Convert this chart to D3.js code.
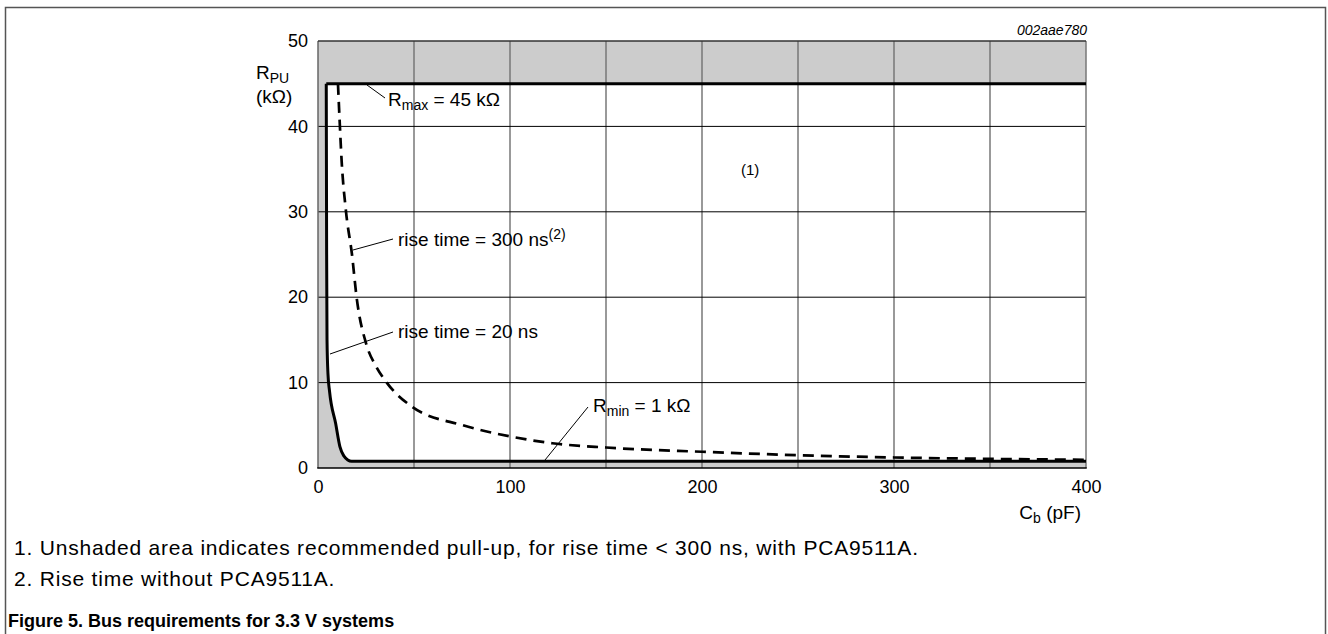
<!DOCTYPE html>
<html>
<head>
<meta charset="utf-8">
<script src="https://cdn.jsdelivr.net/npm/d3@7"></script>
<style>
  body { margin: 0; background: #fff; }
  text { font-family: "Liberation Sans", Arial, sans-serif; fill: #000; }
</style>
</head>
<body>
<svg id="chart" width="1328" height="634"></svg>
<script>
// data
const xTicks = [0, 100, 200, 300, 400];
const yTicks = [0, 10, 20, 30, 40, 50];
const xGrid = [50, 100, 150, 200, 250, 300, 350];
const yGrid = [10, 20, 30, 40];
const rMax = 45;

// rise time = 20 ns (solid boundary), C in pF, R in kOhm
const solidC = [4.3, 4.5, 4.7, 5.2, 6.0, 9.2, 11.4, 13.5, 15.5, 17.5, 400];
const solidR = [45, 25, 15, 11, 9, 5.2, 2.5, 1.4, 0.95, 0.8, 0.8];

// rise time = 300 ns (dashed)
const dashC = [10.4, 11.2, 12.3, 14.6, 17.7, 20.1, 25.3, 30, 35.8, 48.8, 75.5, 100, 122, 150, 200, 250, 300, 350, 400];
const dashR = [45, 41, 36, 30, 25, 20, 14.4, 12, 10, 7.2, 5.0, 3.7, 2.9, 2.4, 1.9, 1.5, 1.23, 1.07, 0.96];

const svg = d3.select('#chart');

const x = d3.scaleLinear().domain([0, 400]).range([318, 1086]);
const y = d3.scaleLinear().domain([0, 50]).range([468, 41]);

// outer frame (open at the bottom)
svg.append('path')
  .attr('d', 'M5.5,634 V7.5 H1325.5 V634')
  .attr('fill', 'none')
  .attr('stroke', '#555')
  .attr('stroke-width', 1.5);

// shaded plot background
svg.append('rect')
  .attr('x', x(0)).attr('y', y(50))
  .attr('width', x(400) - x(0)).attr('height', y(0) - y(50))
  .attr('fill', '#cccccc');

const solidPts = solidC.map((c, i) => [c, solidR[i]]);
const dashPts = dashC.map((c, i) => [c, dashR[i]]);

const line = d3.line()
  .x(d => x(d[0]))
  .y(d => y(d[1]))
  .curve(d3.curveMonotoneX);

// unshaded (recommended) region
const areaPath = line(solidPts) + `L${x(400)},${y(rMax)}L${x(solidC[0])},${y(rMax)}Z`;
svg.append('path').attr('d', areaPath).attr('fill', '#fff');

// grid
svg.selectAll('.vg').data(xGrid).join('line')
  .attr('x1', d => x(d)).attr('x2', d => x(d))
  .attr('y1', y(0)).attr('y2', y(50))
  .attr('stroke', '#777').attr('stroke-width', 1.5);

svg.selectAll('.hg').data(yGrid).join('line')
  .attr('x1', x(0)).attr('x2', x(400))
  .attr('y1', d => y(d)).attr('y2', d => y(d))
  .attr('stroke', '#000').attr('stroke-width', 1);

// plot borders
svg.append('line').attr('x1', x(0)).attr('x2', x(0)).attr('y1', y(0)).attr('y2', y(50))
  .attr('stroke', '#666').attr('stroke-width', 1.5);
svg.append('line').attr('x1', x(400)).attr('x2', x(400)).attr('y1', y(0)).attr('y2', y(50))
  .attr('stroke', '#777').attr('stroke-width', 1.5);
svg.append('line').attr('x1', x(0)).attr('x2', x(400)).attr('y1', y(50)).attr('y2', y(50))
  .attr('stroke', '#333').attr('stroke-width', 1.5);
svg.append('line').attr('x1', x(0) - 0.75).attr('x2', x(400) + 0.75).attr('y1', y(0)).attr('y2', y(0))
  .attr('stroke', '#000').attr('stroke-width', 1.5);

// Rmax line
svg.append('line')
  .attr('x1', x(solidC[0])).attr('x2', x(400))
  .attr('y1', y(rMax)).attr('y2', y(rMax))
  .attr('stroke', '#000').attr('stroke-width', 3);

// 20 ns curve + Rmin
svg.append('path').attr('d', line(solidPts))
  .attr('fill', 'none').attr('stroke', '#000').attr('stroke-width', 3)
  .attr('stroke-linejoin', 'round');

// 300 ns dashed curve
svg.append('path').attr('d', line(dashPts))
  .attr('fill', 'none').attr('stroke', '#000').attr('stroke-width', 2.7)
  .attr('stroke-dasharray', '11,7');

// axes (labels only)
const xAxis = svg.append('g')
  .attr('transform', `translate(0,${y(0)})`)
  .call(d3.axisBottom(x).tickValues(xTicks).tickSize(0).tickPadding(12));
const yAxis = svg.append('g')
  .attr('transform', `translate(${x(0)},0)`)
  .call(d3.axisLeft(y).tickValues(yTicks).tickSize(0).tickPadding(10));
[xAxis, yAxis].forEach(g => {
  g.select('.domain').remove();
  g.selectAll('text')
    .attr('font-family', '"Liberation Sans", Arial, sans-serif')
    .attr('font-size', 18).attr('fill', '#000');
});

// axis titles
const rpu = svg.append('text').attr('x', 256).attr('y', 79).attr('font-size', 19);
rpu.append('tspan').text('R');
rpu.append('tspan').attr('font-size', 14).attr('dy', 4).text('PU');
svg.append('text').attr('x', 256).attr('y', 103).attr('font-size', 19).text('(kΩ)');

const cb = svg.append('text').attr('x', 1081).attr('y', 519).attr('font-size', 19).attr('text-anchor', 'end');
cb.append('tspan').text('C');
cb.append('tspan').attr('font-size', 14).attr('dy', 4).text('b');
cb.append('tspan').attr('dy', -4).text(' (pF)');

svg.append('text').attr('x', 1087).attr('y', 35).attr('font-size', 14)
  .attr('font-style', 'italic').attr('text-anchor', 'end').text('002aae780');

svg.append('text').attr('x', 741).attr('y', 175).attr('font-size', 15).text('(1)');

// annotations with leader lines
function leader(x1, y1, x2, y2) {
  svg.append('line').attr('x1', x1).attr('y1', y1).attr('x2', x2).attr('y2', y2)
    .attr('stroke', '#000').attr('stroke-width', 1);
}

leader(367, 85, 385, 98);
const rmaxT = svg.append('text').attr('x', 388).attr('y', 106).attr('font-size', 19);
rmaxT.append('tspan').text('R');
rmaxT.append('tspan').attr('font-size', 14).attr('dy', 4).text('max');
rmaxT.append('tspan').attr('dy', -4).text(' = 45 kΩ');

leader(353, 250, 393, 239);
const t300 = svg.append('text').attr('x', 398).attr('y', 246).attr('font-size', 19);
t300.append('tspan').text('rise time = 300 ns');
t300.append('tspan').attr('font-size', 14).attr('dy', -7).text('(2)');

leader(330, 354, 393, 332);
svg.append('text').attr('x', 398).attr('y', 338).attr('font-size', 19).text('rise time = 20 ns');

leader(545, 460, 588, 407);
const rminT = svg.append('text').attr('x', 593).attr('y', 412).attr('font-size', 19);
rminT.append('tspan').text('R');
rminT.append('tspan').attr('font-size', 14).attr('dy', 4).text('min');
rminT.append('tspan').attr('dy', -4).text(' = 1 kΩ');

// notes and caption
const notes = [
  '1.  Unshaded area indicates recommended pull-up, for rise time < 300 ns, with PCA9511A.',
  '2.  Rise time without PCA9511A.'
];
svg.selectAll('.note').data(notes).join('text')
  .attr('x', 14).attr('y', (d, i) => 555 + i * 31)
  .attr('font-size', 21).attr('letter-spacing', 0.8).attr('fill', '#222')
  .text(d => d);
svg.append('text').attr('x', 8).attr('y', 627).attr('font-size', 18).attr('font-weight', 'bold')
  .attr('fill', '#4d4d4d')
  .text('Figure 5.  Bus requirements for 3.3 V systems');
</script>
</body>
</html>
